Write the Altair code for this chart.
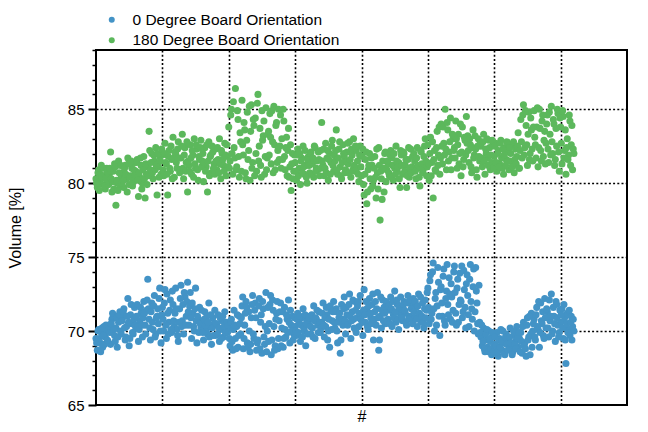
import altair as alt
import pandas as pd

series_names = ["0 Degree Board Orientation", "180 Degree Board Orientation"]
series_colors = ["#4393c6", "#5cb85c"]
y_tick_values = list(range(65, 90))
x_grid_values = [100, 200, 300, 400, 500, 600, 700]

# 0 degree series, samples #0, #2, #4, ...
vol_0deg_even = [
    69.5, 68.7, 70.1, 69.2, 69.9, 68.9, 70.3, 69.6, 70.0, 69.3,
    70.4, 69.1, 70.8, 71.0, 69.7, 70.2, 68.9, 70.6, 71.3, 69.8,
    70.9, 71.5, 69.4, 70.3, 72.2, 69.0, 71.1, 70.5, 69.8, 71.6,
    70.2, 71.8, 69.3, 70.7, 71.2, 69.6, 72.0, 70.4, 71.4, 73.5,
    70.8, 69.4, 71.9, 70.1, 72.4, 69.8, 71.0, 70.5, 72.9, 69.2,
    71.6, 70.0, 72.8, 69.5, 71.2, 70.6, 72.1, 69.9, 71.8, 70.3,
    72.9, 70.1, 69.3, 71.5, 73.1, 70.7, 69.8, 72.3, 71.0, 73.3,
    70.4, 72.6, 69.5, 71.2, 70.0, 72.9, 69.2, 70.8, 71.6, 70.2,
    70.6, 69.4, 71.3, 70.0, 69.8, 71.9, 70.3, 69.1, 70.9, 70.5,
    69.7, 70.4, 71.1, 69.3, 70.1, 70.7, 69.6, 71.3, 70.0, 69.9,
    70.2, 69.0, 70.8, 68.7, 71.4, 69.5, 70.3, 68.9, 71.0, 69.8,
    71.7, 68.8, 70.4, 72.0, 69.2, 71.3, 68.6, 70.9, 72.4, 69.5,
    71.9, 68.7, 69.4, 72.2, 70.6, 68.5, 71.5, 69.1, 72.6, 70.0,
    69.3, 71.8, 68.4, 72.1, 70.3, 69.0, 71.2, 68.8, 70.7, 71.9,
    70.2, 68.9, 71.6, 69.6, 70.8, 72.1, 69.2, 70.4, 71.0, 69.8,
    70.3, 69.7, 71.2, 70.6, 69.3, 70.9, 71.5, 70.0, 69.0, 70.7,
    70.5, 71.0, 69.8, 70.2, 71.7, 69.5, 70.8, 70.4, 71.3, 69.9,
    70.6, 71.9, 69.6, 70.3, 71.1, 70.0, 68.9, 71.4, 70.7, 72.0,
    70.2, 71.5, 69.2, 70.9, 68.5, 71.8, 70.4, 72.3, 69.8, 71.1,
    70.5, 72.5, 69.5, 71.3, 70.8, 72.0, 69.9, 71.7, 70.3, 72.4,
    71.0, 69.7, 72.8, 70.6, 71.5, 70.1, 72.2, 70.9, 71.8, 69.4,
    71.3, 70.4, 72.6, 68.7, 71.0, 70.2, 72.1, 71.6, 70.5, 71.9,
    70.8, 71.4, 72.3, 70.3, 71.1, 72.7, 70.6, 71.8, 70.1, 71.2,
    71.5, 70.7, 72.0, 71.2, 70.4, 72.4, 71.0, 70.9, 71.7, 72.2,
    70.9, 71.6, 70.3, 72.5, 71.1, 70.6, 71.9, 70.2, 72.1, 71.4,
    72.9, 70.5, 73.8, 71.2, 74.6, 70.0, 72.6, 71.7, 73.3, 69.7,
    73.0, 71.0, 74.2, 70.4, 72.7, 71.8, 73.6, 70.8, 72.3, 71.4,
    74.4, 71.2, 72.9, 70.6, 73.9, 72.0, 70.9, 74.1, 71.6, 73.2,
    72.4, 70.3, 74.5, 71.5, 73.0, 70.0, 74.3, 71.9, 69.8, 70.6,
    69.6, 69.0, 70.2, 68.6, 69.4, 68.9, 70.0, 69.3, 68.4, 69.7,
    69.1, 68.5, 69.9, 68.3, 69.5, 70.1, 68.7, 69.2, 68.4, 69.8,
    69.4, 68.8, 70.2, 69.0, 68.6, 69.7, 69.3, 70.3, 68.9, 69.5,
    69.9, 68.5, 70.6, 69.2, 68.3, 70.9, 69.6, 68.4, 71.2, 70.0,
    70.8, 69.4, 71.6, 70.1, 68.9, 71.9, 70.5, 69.7, 72.2, 70.2,
    71.3, 69.6, 70.7, 72.5, 70.0, 71.0, 69.3, 71.8, 70.4, 69.9,
    70.6, 71.5, 69.5, 70.9, 67.8, 71.2, 70.1, 69.7, 71.0, 70.3,
    70.0,
]

# 0 degree series, samples #1, #3, #5, ...
vol_0deg_odd = [
    69.2, 70.0, 69.5, 68.6, 70.2, 69.7, 69.1, 70.4, 69.4, 70.1,
    69.9, 70.5, 71.2, 70.1, 69.3, 70.9, 69.6, 71.1, 70.0, 70.7,
    71.3, 70.2, 69.6, 71.0, 70.6, 69.5, 71.8, 69.9, 70.8, 70.4,
    71.0, 70.3, 70.1, 71.6, 70.4, 70.9, 71.2, 69.8, 72.1, 71.5,
    70.2, 71.3, 70.6, 71.7, 69.6, 70.9, 71.5, 72.2, 70.0, 71.1,
    70.8, 71.9, 70.4, 72.5, 69.8, 71.4, 70.1, 72.7, 70.7, 71.2,
    71.5, 69.7, 70.6, 72.2, 70.3, 71.8, 72.6, 70.4, 72.0, 71.3,
    71.7, 70.9, 71.9, 70.3, 71.5, 70.7, 71.0, 69.9, 70.5, 71.4,
    69.9, 70.8, 70.4, 71.0, 70.6, 69.6, 71.1, 70.2, 69.7, 71.4,
    70.5, 69.8, 70.2, 70.9, 69.5, 71.0, 70.3, 69.9, 70.6, 70.4,
    69.5, 70.6, 69.3, 70.1, 70.4, 68.8, 71.1, 69.7, 70.5, 70.9,
    72.3, 69.5, 71.2, 71.6, 68.9, 70.0, 69.1, 71.8, 69.8, 71.4,
    70.9, 69.2, 71.7, 68.8, 71.1, 72.0, 69.6, 70.3, 68.6, 71.6,
    70.5, 72.4, 69.4, 71.4, 68.7, 70.8, 72.0, 69.5, 71.3, 69.0,
    71.3, 69.5, 70.1, 71.1, 69.9, 70.6, 71.4, 70.0, 69.4, 70.9,
    70.0, 70.8, 69.9, 71.0, 70.4, 69.6, 70.2, 71.1, 70.5, 69.8,
    70.9, 70.3, 71.1, 69.6, 70.7, 70.9, 71.4, 69.9, 70.6, 70.2,
    71.2, 70.4, 70.9, 71.6, 69.4, 70.8, 71.7, 70.1, 71.3, 70.6,
    71.3, 70.0, 70.6, 71.2, 69.4, 70.8, 71.5, 70.7, 71.6, 70.4,
    71.8, 71.0, 70.7, 72.1, 70.2, 71.4, 70.9, 72.0, 71.2, 70.8,
    70.6, 71.4, 71.1, 72.0, 70.3, 71.7, 71.2, 70.5, 72.5, 70.8,
    72.0, 71.5, 70.9, 69.4, 72.3, 71.4, 70.7, 71.2, 72.0, 70.6,
    71.7, 70.5, 71.5, 72.0, 70.9, 71.3, 72.1, 70.8, 71.6, 72.3,
    70.9, 71.8, 71.4, 70.6, 71.9, 70.8, 72.1, 71.5, 70.5, 71.3,
    72.0, 70.8, 71.7, 71.2, 72.3, 71.0, 70.6, 71.5, 70.9, 72.6,
    71.6, 73.4, 70.8, 74.0, 71.5, 72.2, 70.4, 74.3, 71.0, 72.8,
    71.9, 73.7, 70.7, 72.2, 74.5, 71.1, 72.5, 73.2, 70.6, 74.0,
    72.6, 70.4, 73.5, 71.8, 72.1, 74.4, 71.3, 72.8, 70.2, 73.8,
    71.1, 73.5, 72.0, 70.8, 74.2, 71.3, 72.7, 70.5, 73.1, 69.9,
    70.4, 69.3, 68.8, 69.8, 70.1, 68.6, 69.5, 68.8, 69.9, 68.6,
    69.6, 69.0, 68.6, 69.4, 68.9, 69.3, 70.0, 68.5, 69.6, 69.1,
    68.7, 69.6, 69.2, 68.4, 70.0, 69.1, 68.8, 69.5, 69.9, 68.6,
    69.3, 70.3, 69.0, 68.8, 70.4, 69.4, 71.0, 69.8, 68.9, 70.5,
    69.6, 71.1, 70.3, 72.0, 69.9, 70.7, 71.3, 69.5, 70.9, 71.5,
    70.2, 72.1, 71.0, 69.8, 71.6, 70.5, 72.0, 70.9, 69.6, 71.4,
    71.1, 70.2, 71.8, 69.4, 70.5, 69.9, 71.4, 70.6, 69.4, 70.8,
]

# 180 degree series, samples #0, #2, #4, ...
vol_180deg_even = [
    80.3, 79.7, 80.9, 80.1, 81.2, 79.9, 80.5, 79.6, 81.0, 80.2,
    80.6, 82.1, 79.4, 80.8, 81.3, 78.5, 80.0, 81.5, 79.8, 80.4,
    80.7, 79.7, 81.2, 80.3, 81.7, 79.9, 80.5, 81.0, 80.1, 81.4,
    80.8, 81.6, 79.1, 80.4, 81.2, 80.0, 81.8, 79.0, 80.6, 81.1,
    83.5, 80.9, 82.0, 80.3, 81.5, 82.4, 79.2, 81.1, 81.8, 80.6,
    81.9, 80.5, 82.7, 81.3, 79.2, 82.2, 80.8, 81.6, 83.1, 80.4,
    82.0, 81.0, 82.8, 80.7, 81.7, 83.3, 80.3, 82.4, 81.4, 79.4,
    81.2, 82.6, 80.6, 81.9, 83.0, 81.0, 82.3, 80.2, 81.6, 82.9,
    81.5, 80.1, 82.4, 81.1, 79.4, 82.8, 81.8, 80.7, 82.1, 81.3,
    82.3, 80.9, 81.6, 83.0, 80.3, 82.0, 81.2, 82.7, 80.5, 81.8,
    83.8, 81.5, 85.0, 80.6, 82.4, 86.4, 81.1, 84.3, 80.4, 82.8,
    85.6, 81.9, 83.6, 80.3, 84.8, 82.2, 80.2, 85.3, 81.4, 83.9,
    84.4, 80.8, 86.0, 82.5, 81.2, 84.9, 83.2, 80.6, 85.1, 81.7,
    83.5, 84.7, 81.3, 82.8, 85.2, 80.9, 84.1, 82.2, 81.6, 84.6,
    83.0, 85.0, 81.8, 82.4, 80.5, 83.7, 81.1, 79.5, 82.0, 80.8,
    81.4, 80.2, 82.3, 81.0, 79.9, 81.7, 82.5, 80.6, 81.2, 80.0,
    81.8, 80.7, 82.1, 81.3, 80.4, 82.4, 81.0, 80.9, 81.6, 82.2,
    84.1, 81.2, 80.5, 82.7, 81.7, 80.2, 82.0, 81.4, 82.9, 80.8,
    81.5, 83.6, 80.6, 82.3, 81.1, 80.3, 82.6, 81.8, 80.9, 82.1,
    81.3, 82.8, 80.4, 81.9, 83.0, 80.8, 82.2, 81.5, 80.1, 82.5,
    80.5, 82.3, 79.2, 81.6, 78.6, 80.9, 82.0, 79.6, 81.2, 80.2,
    81.8, 79.0, 80.7, 82.4, 77.5, 80.3, 81.5, 79.4, 82.1, 80.9,
    81.3, 80.5, 82.2, 81.7, 80.2, 81.0, 82.5, 80.8, 81.4, 79.7,
    81.9, 80.6, 82.0, 81.2, 79.7, 81.6, 80.4, 82.3, 81.1, 80.9,
    81.5, 80.3, 82.4, 81.0, 79.8, 82.1, 80.7, 81.8, 83.0, 80.5,
    82.6, 80.2, 83.1, 81.4, 79.0, 82.2, 80.8, 83.5, 81.9, 80.6,
    84.0, 81.3, 82.7, 85.0, 80.9, 83.6, 82.1, 84.4, 81.7, 83.0,
    82.4, 84.2, 81.0, 83.3, 82.0, 80.5, 83.8, 81.6, 82.9, 84.5,
    83.2, 81.4, 82.6, 80.7, 83.6, 81.9, 82.3, 80.4, 83.0, 81.5,
    82.5, 81.1, 83.3, 80.6, 82.0, 81.7, 82.9, 80.9, 81.4, 82.6,
    81.8, 82.7, 80.8, 82.2, 81.3, 82.9, 81.0, 80.6, 82.4, 81.6,
    82.1, 80.9, 81.5, 82.6, 81.2, 80.7, 82.3, 81.8, 83.4, 81.0,
    84.3, 81.7, 85.3, 82.4, 83.9, 81.2, 84.8, 82.0, 83.6, 81.5,
    84.9, 82.6, 83.8, 81.1, 85.0, 82.2, 84.2, 81.8, 83.5, 82.7,
    84.6, 81.4, 83.3, 85.2, 82.0, 84.0, 81.6, 82.5, 84.7, 80.8,
    83.8, 81.3, 84.5, 82.2, 80.6, 83.0, 81.9, 84.2, 82.6, 80.9,
    82.0,
]

# 180 degree series, samples #1, #3, #5, ...
vol_180deg_odd = [
    80.0, 80.7, 79.5, 80.6, 80.4, 81.0, 79.8, 80.3, 80.8, 79.9,
    81.0, 80.3, 80.1, 79.6, 81.1, 80.2, 79.5, 80.7, 81.2, 80.0,
    80.2, 81.0, 80.6, 79.4, 81.3, 80.4, 81.5, 79.8, 80.9, 80.5,
    81.4, 80.2, 80.7, 81.7, 79.6, 80.9, 80.3, 81.3, 79.9, 80.5,
    82.2, 81.4, 80.7, 81.9, 80.9, 81.2, 82.0, 80.4, 81.5, 82.3,
    80.9, 82.0, 81.4, 80.6, 81.8, 81.0, 82.5, 80.3, 81.7, 82.1,
    81.4, 82.3, 81.7, 80.9, 82.5, 81.0, 81.9, 80.8, 82.8, 81.5,
    80.8, 81.7, 82.2, 80.4, 81.3, 82.6, 80.9, 81.8, 82.4, 81.1,
    82.0, 81.4, 80.8, 82.6, 81.5, 80.5, 81.9, 82.5, 81.0, 80.6,
    81.5, 82.4, 80.7, 81.3, 82.2, 81.6, 80.8, 81.9, 82.6, 81.1,
    81.0, 84.6, 82.0, 85.5, 81.7, 80.9, 84.9, 81.8, 83.4, 80.8,
    82.6, 84.1, 80.7, 82.9, 81.6, 85.2, 83.5, 81.0, 84.3, 80.5,
    82.0, 85.4, 81.5, 83.7, 80.4, 82.9, 84.2, 81.8, 80.9, 83.3,
    81.9, 83.1, 84.9, 80.7, 82.6, 83.9, 81.4, 85.0, 82.5, 81.0,
    81.6, 84.2, 80.9, 83.1, 82.2, 80.4, 82.6, 81.3, 80.3, 81.9,
    80.8, 81.9, 80.5, 82.0, 81.5, 80.7, 81.1, 82.2, 80.4, 81.6,
    81.2, 82.0, 80.6, 81.7, 82.5, 80.8, 81.5, 82.1, 80.5, 81.0,
    81.5, 82.3, 81.0, 80.7, 82.2, 81.6, 80.6, 82.5, 81.2, 81.9,
    82.2, 80.9, 81.7, 82.8, 80.5, 81.4, 82.0, 80.7, 81.5, 82.7,
    80.7, 81.6, 82.3, 80.9, 81.2, 82.5, 81.0, 80.6, 81.9, 81.1,
    81.8, 79.9, 80.6, 82.1, 79.4, 81.2, 80.3, 81.7, 79.8, 81.0,
    80.4, 82.3, 79.6, 81.2, 80.8, 78.9, 81.0, 82.0, 80.1, 81.5,
    80.7, 81.9, 80.4, 81.2, 82.0, 80.6, 81.5, 81.1, 80.3, 82.2,
    81.2, 82.1, 80.8, 81.6, 80.5, 82.4, 81.0, 80.7, 81.8, 82.0,
    80.8, 81.7, 81.2, 80.4, 82.2, 81.3, 80.9, 82.5, 81.5, 81.1,
    81.3, 82.0, 80.5, 82.8, 81.6, 80.9, 82.4, 81.2, 83.8, 81.7,
    82.5, 83.8, 81.9, 82.3, 84.1, 81.5, 82.8, 80.9, 83.3, 82.2,
    81.7, 83.0, 82.6, 81.3, 84.0, 82.1, 81.1, 83.1, 81.9, 82.7,
    82.2, 83.0, 81.1, 82.4, 81.7, 83.2, 80.9, 82.5, 81.8, 82.7,
    81.7, 82.8, 81.5, 82.3, 83.0, 81.2, 82.4, 81.9, 82.9, 81.0,
    82.5, 81.4, 82.0, 81.1, 82.7, 81.7, 82.3, 81.9, 81.2, 82.8,
    81.5, 82.4, 82.0, 81.1, 82.8, 81.6, 81.3, 82.5, 81.0, 82.2,
    82.8, 84.6, 81.9, 84.9, 82.6, 83.3, 81.6, 84.4, 82.3, 83.8,
    83.1, 81.7, 85.1, 82.4, 83.7, 81.5, 84.6, 82.9, 81.3, 84.0,
    82.3, 84.8, 81.9, 82.8, 84.3, 81.2, 83.7, 85.0, 82.1, 84.4,
    82.7, 84.9, 81.7, 83.6, 82.4, 81.6, 84.6, 81.2, 83.9, 82.3,
]

rows = []
for name, even, odd in [
    (series_names[0], vol_0deg_even, vol_0deg_odd),
    (series_names[1], vol_180deg_even, vol_180deg_odd),
]:
    for i, v in enumerate(even):
        rows.append({"n": 2 * i, "v": v, "s": name})
    for i, v in enumerate(odd):
        rows.append({"n": 2 * i + 1, "v": v, "s": name})
df = pd.DataFrame(rows)

major = "datum.value % 5 == 0"

chart = (
    alt.Chart(df)
    .mark_circle(size=50, opacity=1)
    .encode(
        x=alt.X(
            "n:Q",
            scale=alt.Scale(domain=[0, 800], nice=False, zero=False),
            axis=alt.Axis(
                values=x_grid_values,
                labels=False,
                ticks=False,
                domain=False,
                grid=True,
                gridColor="black",
                gridDash=[2, 2.2],
                gridWidth=1.6,
                title="#",
                titleFontSize=16,
                titleFontWeight="normal",
                titleColor="black",
                titlePadding=3,
            ),
        ),
        y=alt.Y(
            "v:Q",
            scale=alt.Scale(domain=[65, 89], nice=False, zero=False),
            axis=alt.Axis(
                values=y_tick_values,
                labelExpr=major + " ? datum.label : ''",
                labelFontSize=15,
                labelColor="black",
                labelPadding=4,
                tickColor="black",
                tickSize={"condition": {"test": major, "value": 8}, "value": 4},
                tickWidth={"condition": {"test": major, "value": 2}, "value": 1.5},
                domain=False,
                grid=True,
                gridColor="black",
                gridDash=[2, 2.2],
                gridWidth=1.6,
                gridOpacity={"condition": {"test": major + " && datum.value > 65", "value": 1}, "value": 0},
                title="Volume [%]",
                titleFontSize=16,
                titleFontWeight="normal",
                titleColor="black",
                titlePadding=44,
            ),
        ),
        color=alt.Color(
            "s:N",
            scale=alt.Scale(domain=series_names, range=series_colors),
            legend=alt.Legend(
                title=None,
                orient="none",
                legendX=8,
                legendY=-38,
                symbolType="circle",
                symbolSize=36,
                symbolStrokeWidth=0,
                labelFontSize=15.5,
                labelColor="black",
                labelOffset=13,
                labelLimit=400,
                rowPadding=3.5,
                padding=0,
            ),
        ),
    )
    .properties(
        width=531,
        height=355,
        autosize=alt.AutoSizeParams(type="none"),
        padding={"left": 88, "top": 42, "right": 13, "bottom": 19},
    )
    .configure(font="Liberation Sans")
    .configure_view(stroke="black", strokeWidth=2)
)

chart.save("out.html", embed_options={"renderer": "svg", "actions": False})
